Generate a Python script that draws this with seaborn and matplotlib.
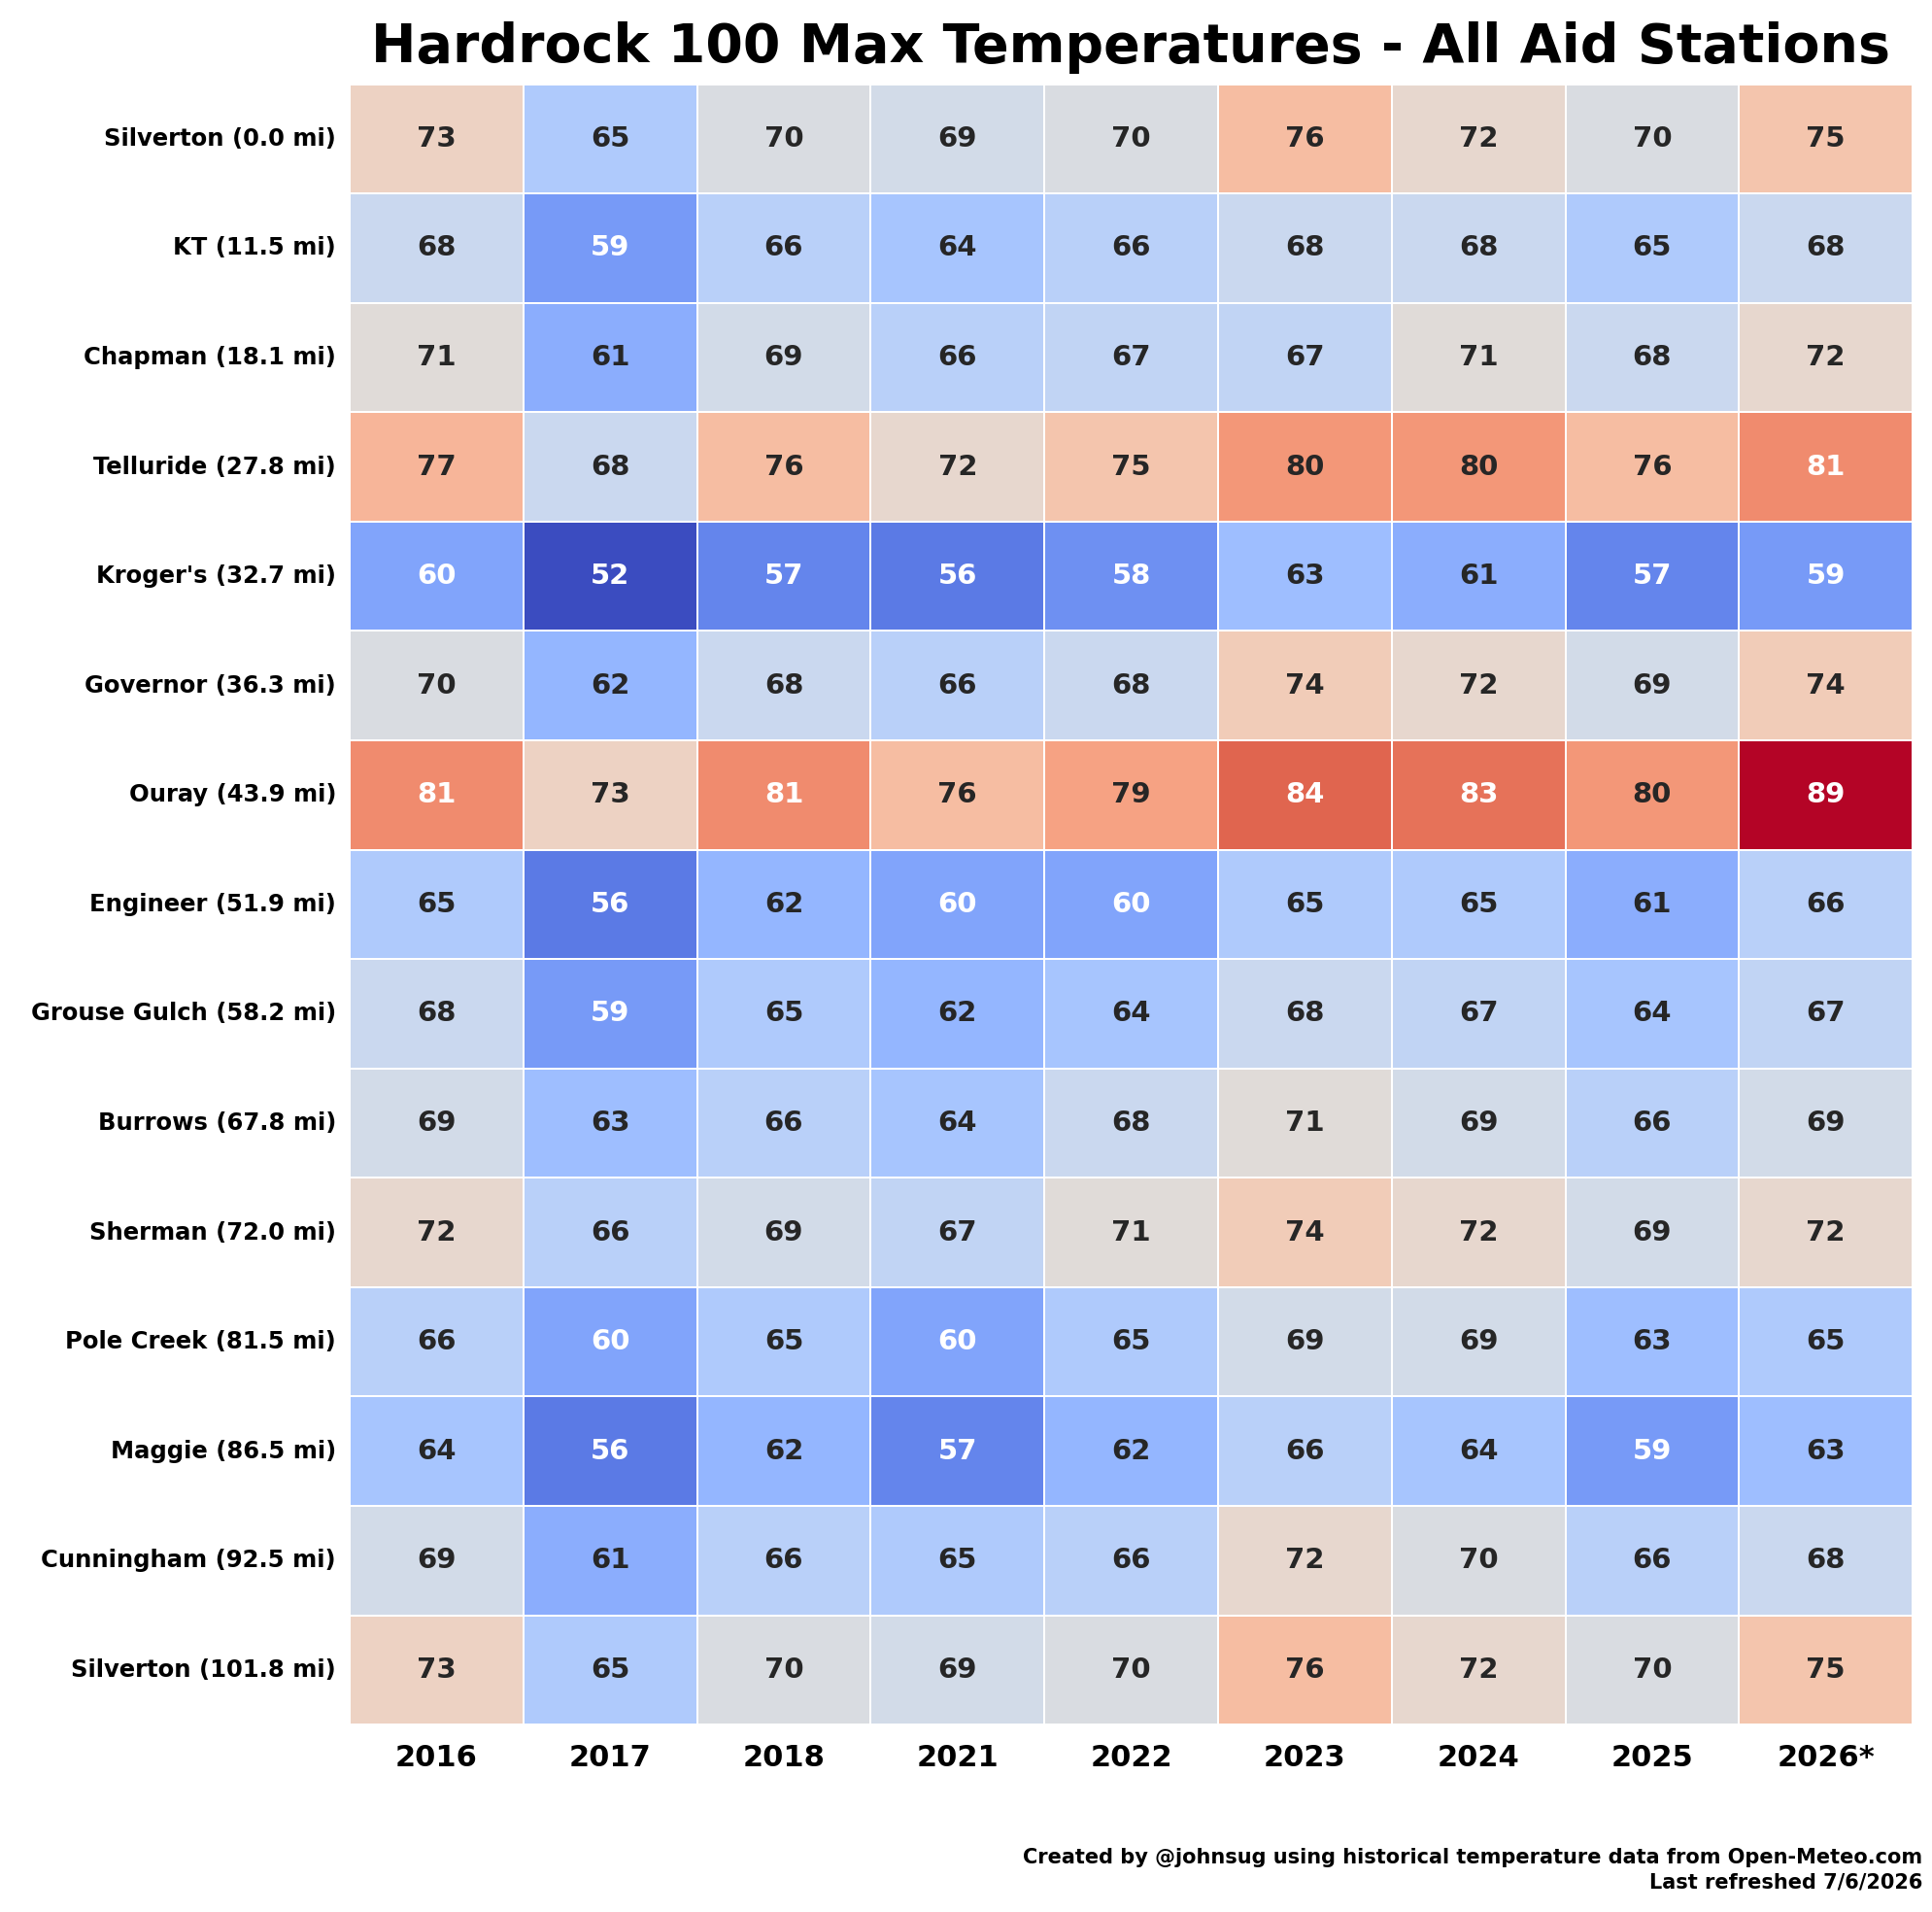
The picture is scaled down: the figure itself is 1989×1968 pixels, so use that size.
import matplotlib
matplotlib.use("Agg")
import matplotlib.pyplot as plt
import seaborn as sns
import pandas as pd
import numpy as np

stations = ["Silverton (0.0 mi)", "KT (11.5 mi)", "Chapman (18.1 mi)", "Telluride (27.8 mi)",
            "Kroger's (32.7 mi)", "Governor (36.3 mi)", "Ouray (43.9 mi)", "Engineer (51.9 mi)",
            "Grouse Gulch (58.2 mi)", "Burrows (67.8 mi)", "Sherman (72.0 mi)", "Pole Creek (81.5 mi)",
            "Maggie (86.5 mi)", "Cunningham (92.5 mi)", "Silverton (101.8 mi)"]
years = ["2016", "2017", "2018", "2021", "2022", "2023", "2024", "2025", "2026*"]
temps = [
    [73, 65, 70, 69, 70, 76, 72, 70, 75],
    [68, 59, 66, 64, 66, 68, 68, 65, 68],
    [71, 61, 69, 66, 67, 67, 71, 68, 72],
    [77, 68, 76, 72, 75, 80, 80, 76, 81],
    [60, 52, 57, 56, 58, 63, 61, 57, 59],
    [70, 62, 68, 66, 68, 74, 72, 69, 74],
    [81, 73, 81, 76, 79, 84, 83, 80, 89],
    [65, 56, 62, 60, 60, 65, 65, 61, 66],
    [68, 59, 65, 62, 64, 68, 67, 64, 67],
    [69, 63, 66, 64, 68, 71, 69, 66, 69],
    [72, 66, 69, 67, 71, 74, 72, 69, 72],
    [66, 60, 65, 60, 65, 69, 69, 63, 65],
    [64, 56, 62, 57, 62, 66, 64, 59, 63],
    [69, 61, 66, 65, 66, 72, 70, 66, 68],
    [73, 65, 70, 69, 70, 76, 72, 70, 75],
]
df = pd.DataFrame(temps, index=stations, columns=years)

plt.rcParams['font.family'] = ['DejaVu Sans']
plt.rcParams['font.weight'] = 'bold'
fig = plt.figure(figsize=(19.89, 19.68), dpi=100)
ax = fig.add_axes([0.181, 0.098, 0.809, 0.858])
sns.heatmap(df, ax=ax, cmap="coolwarm", vmin=52, vmax=89, annot=True, fmt="d",
            annot_kws={"fontsize": 21, "fontweight": "bold"},
            linewidths=1.2, linecolor="white", cbar=False)
ax.set_xlabel(""); ax.set_ylabel("")
ax.tick_params(axis='both', length=0)
ax.tick_params(axis='x', labelsize=22, pad=14)
ax.tick_params(axis='y', labelsize=17.5, pad=10)
for t in ax.get_xticklabels() + ax.get_yticklabels():
    t.set_fontweight('bold')
plt.setp(ax.get_yticklabels(), rotation=0)
plt.setp(ax.get_xticklabels(), rotation=0)
fig.text(0.585, 0.975, "Hardrock 100 Max Temperatures - All Aid Stations", ha='center', va='center',
         fontsize=40, fontweight='bold')
fig.text(0.995, 0.022, "Created by @johnsug using historical temperature data from Open-Meteo.com\nLast refreshed 7/6/2026",
         ha='right', va='center', fontsize=15, fontweight='bold', linespacing=1.3)
fig.savefig("out.png", dpi=100)
